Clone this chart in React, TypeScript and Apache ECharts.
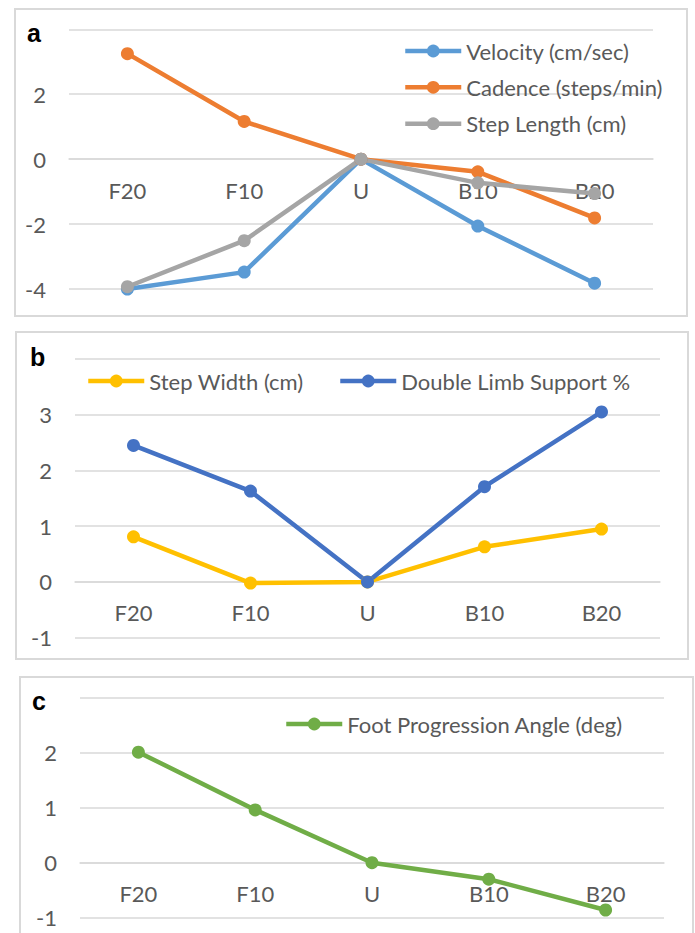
import React, { useEffect, useRef } from 'react';
import * as echarts from 'echarts';

const categories = ['F20', 'F10', 'U', 'B10', 'B20'];

const velocity = [-4.0, -3.48, 0, -2.06, -3.82];
const cadence = [3.25, 1.16, 0, -0.39, -1.81];
const stepLength = [-3.93, -2.51, 0, -0.73, -1.06];

const stepWidth = [0.81, -0.02, 0, 0.63, 0.95];
const doubleLimb = [2.45, 1.63, 0, 1.71, 3.05];

const footAngle = [2.01, 0.96, 0, -0.3, -0.86];

const yRanges = [
  { min: -4, max: 4, interval: 2 },
  { min: -1, max: 4, interval: 1 },
  { min: -1, max: 3, interval: 1 },
];

const FONT = "Lato, 'Open Sans', sans-serif";
const TXT = '#595959';
const GRID = '#D9D9D9';
const FS = 22;

export default function App() {
  const ref = useRef<HTMLDivElement>(null);
  useEffect(() => {
    if (!ref.current) return;
    const chart = echarts.init(ref.current, undefined, { renderer: 'svg' });

    const grids = [
      { left: 69, top: 29.3, width: 584, height: 259.7 },
      { left: 75, top: 359, width: 585, height: 278.7 },
      { left: 80, top: 697.7, width: 584, height: 220 },
    ];

    // x axis sits on the value 0 of each panel's y scale
    const xAxes = grids.map((g, i) => {
      const r = yRanges[i];
      const zeroOffset = -(g.height * (0 - r.min)) / (r.max - r.min);
      return {
        gridIndex: i,
        type: 'category',
        data: categories,
        boundaryGap: true,
        position: 'bottom',
        offset: zeroOffset,
        axisLine: { show: true, onZero: false, lineStyle: { color: GRID, width: 1.5 } },
        axisTick: { show: false },
        splitLine: { show: false },
        axisLabel: { margin: 20, fontSize: FS, color: TXT, fontFamily: FONT },
        z: 0,
      };
    });

    const yAxes = yRanges.map((r, i) => ({
      gridIndex: i,
      type: 'value',
      min: r.min,
      max: r.max,
      interval: r.interval,
      axisLine: { show: false },
      axisTick: { show: false },
      splitLine: { show: true, lineStyle: { color: GRID, width: 1.5 } },
      axisLabel: {
        margin: 23,
        fontSize: FS,
        color: TXT,
        fontFamily: FONT,
        formatter: (v: number) => (v === r.max ? '' : String(v)),
      },
    }));

    const mk = (name: string, data: number[], color: string, idx: number) => ({
      name,
      type: 'line',
      xAxisIndex: idx,
      yAxisIndex: idx,
      data,
      symbol: 'circle',
      symbolSize: 13,
      lineStyle: { color, width: 4.5 },
      itemStyle: { color },
      emphasis: { disabled: true },
    });

    const legendBase = {
      orient: 'horizontal',
      padding: 0,
      itemWidth: 56,
      itemHeight: 16,
      lineStyle: { width: 4.5 },
      textStyle: { color: TXT, fontSize: FS, fontFamily: FONT, lineHeight: 16 },
      selectedMode: false,
    };

    const panelText = (t: string, x: number, y: number) => ({
      type: 'text',
      x,
      y,
      style: {
        text: t,
        fill: '#000',
        font: "bold 25px 'Liberation Sans', Arial, sans-serif",
        textAlign: 'left',
        textVerticalAlign: 'middle',
        verticalAlign: 'middle',
      },
      z: 10,
    });

    const border = (x: number, y: number, w: number, h: number) => ({
      type: 'rect',
      shape: { x, y, width: w, height: h },
      style: { fill: 'none', stroke: GRID, lineWidth: 2 },
      z: -1,
    });

    chart.setOption({
      animation: false,
      backgroundColor: '#ffffff',
      grid: grids,
      xAxis: xAxes,
      yAxis: yAxes,
      legend: [
        { ...legendBase, data: ['Velocity (cm/sec)'], left: 403, top: 40 },
        { ...legendBase, data: ['Cadence (steps/min)'], left: 403, top: 76.3 },
        { ...legendBase, data: ['Step Length (cm)'], left: 403, top: 112.7 },
        { ...legendBase, data: ['Step Width (cm)'], left: 86, top: 370 },
        { ...legendBase, data: ['Double Limb Support %'], left: 338, top: 370 },
        { ...legendBase, data: ['Foot Progression Angle (deg)'], left: 284, top: 713 },
      ],
      series: [
        mk('Velocity (cm/sec)', velocity, '#5B9BD5', 0),
        mk('Cadence (steps/min)', cadence, '#ED7D31', 0),
        mk('Step Length (cm)', stepLength, '#A5A5A5', 0),
        mk('Step Width (cm)', stepWidth, '#FFC000', 1),
        mk('Double Limb Support %', doubleLimb, '#4472C4', 1),
        mk('Foot Progression Angle (deg)', footAngle, '#70AD47', 2),
      ],
      graphic: [
        border(15, 9, 672, 307),
        border(16, 332, 672, 327),
        border(20, 677, 673, 300),
        panelText('a', 27, 33),
        panelText('b', 30, 357),
        panelText('c', 32, 701),
      ],
    });

    return () => chart.dispose();
  }, []);

  return (
    <div
      ref={ref}
      style={{ position: 'absolute', left: 0, top: 0, width: 695, height: 933 }}
    />
  );
}
